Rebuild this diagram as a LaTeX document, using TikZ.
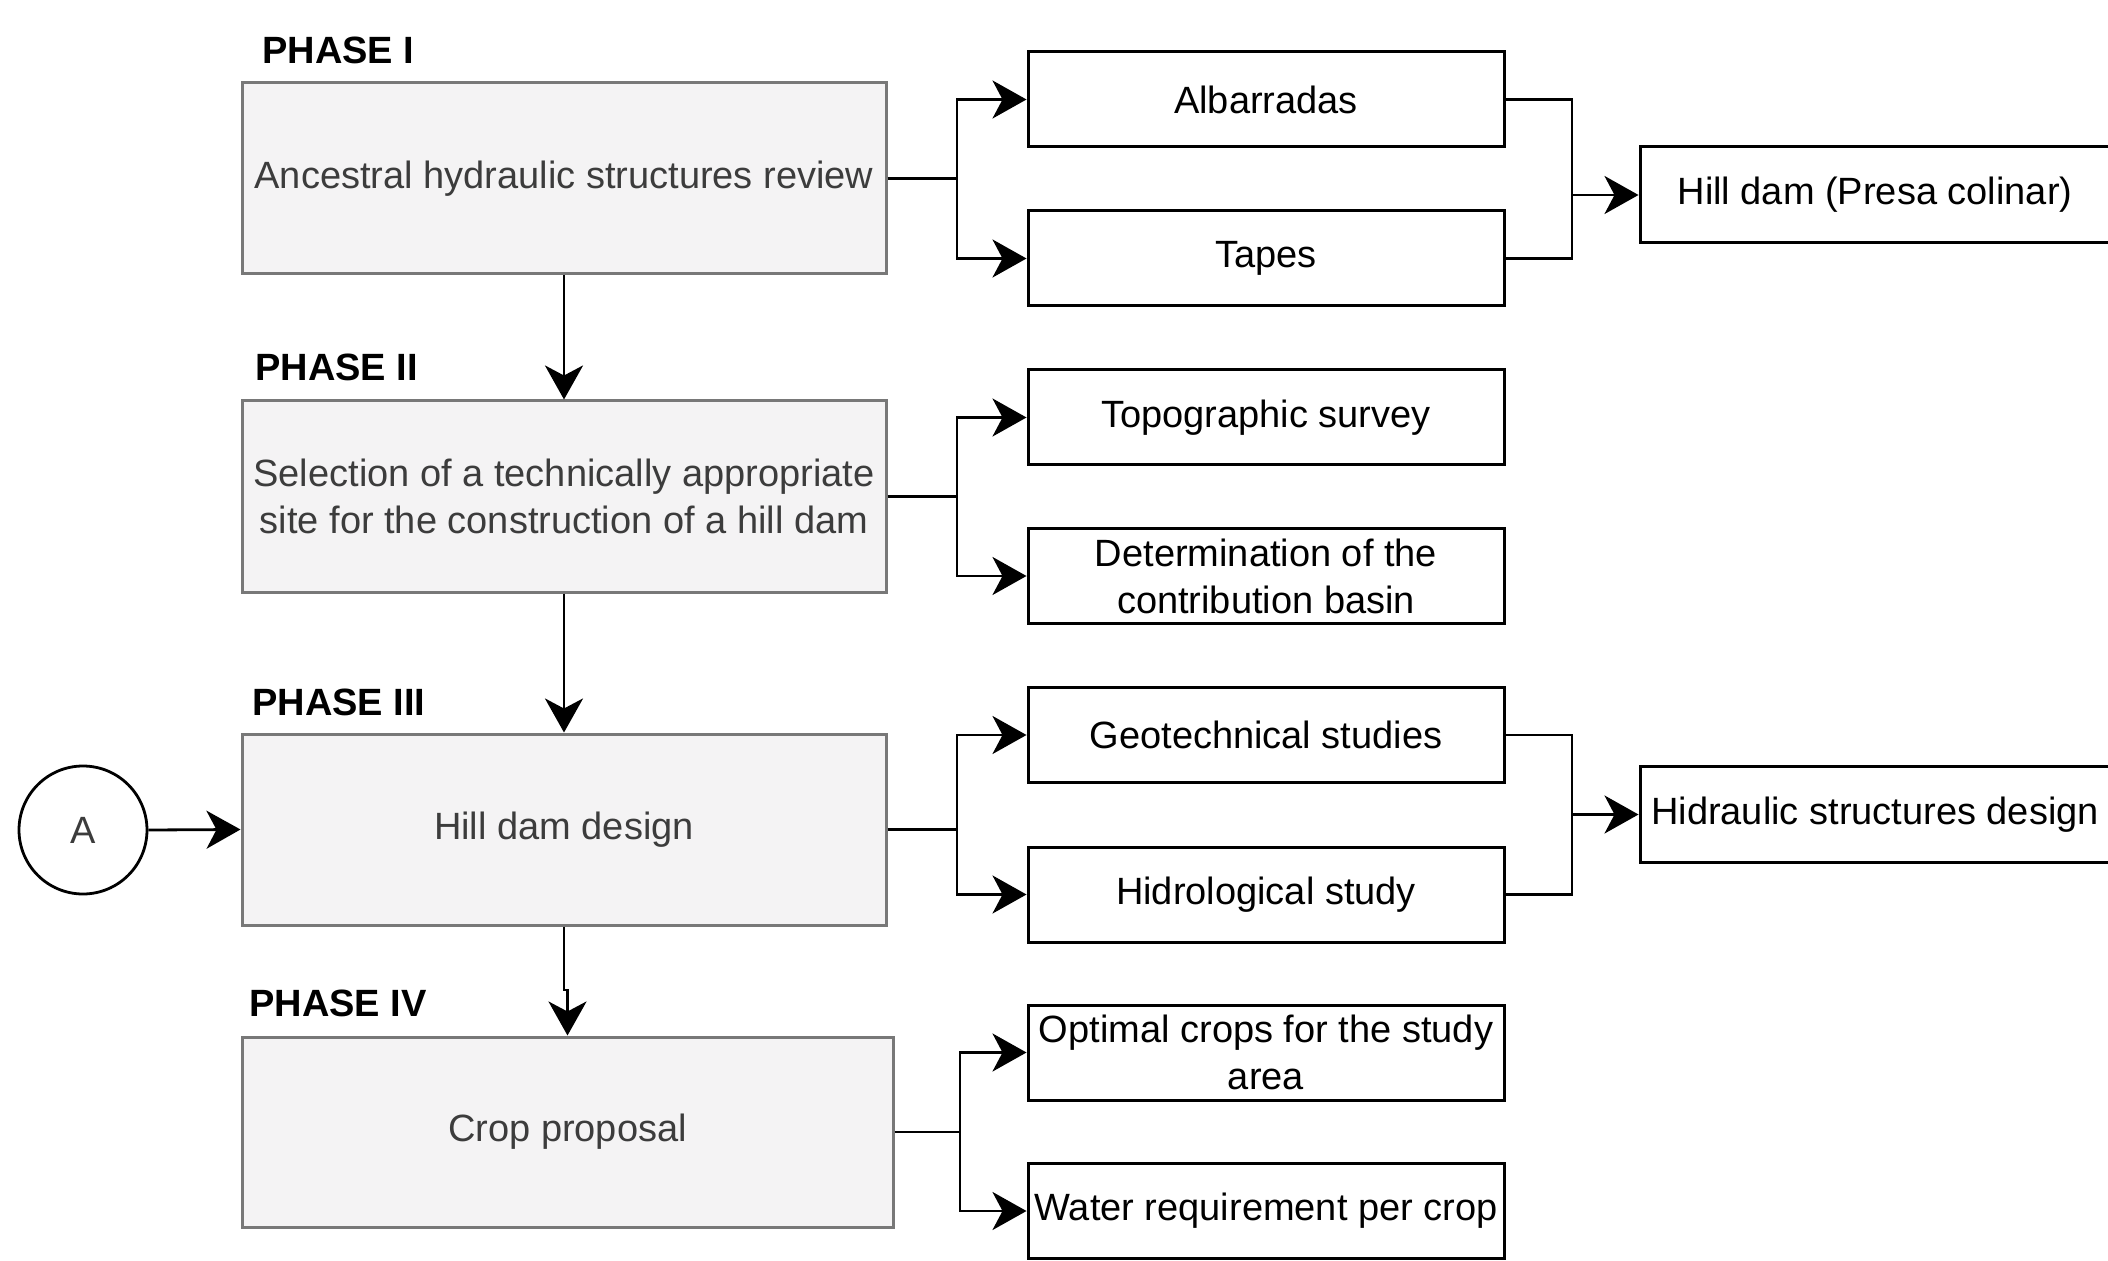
\documentclass[tikz,border=0pt]{standalone}
\usepackage{fontspec}
\setmainfont{Liberation Sans}
\usetikzlibrary{arrows.meta}
\definecolor{boxfill}{RGB}{244,243,244}
\definecolor{boxline}{RGB}{120,120,120}
\definecolor{txtgray}{RGB}{60,60,60}
\tikzset{
  x=0.5pt, y=-0.5pt,
  every node/.style={font=\fontsize{19}{23.5}\selectfont, inner sep=0pt, align=center},
  graybox/.style={draw=boxline, fill=boxfill, line width=1.5pt, text=txtgray, minimum width=322pt, minimum height=95.5pt},
  whitebox/.style={draw=black, fill=white, line width=1.5pt, text=black, minimum width=238pt, minimum height=47.5pt},
  resbox/.style={draw=black, fill=white, line width=1.5pt, text=black, minimum width=235pt, minimum height=48pt},
  phaselabel/.style={anchor=west, font=\fontsize{19}{23.5}\selectfont\bfseries, text=black},
  conn/.style={draw=black, line width=1.4pt},
  arr/.style={conn, -{Stealth[length=17pt, width=19pt, inset=5pt]}},
}
\begin{document}
\begin{tikzpicture}
\useasboundingbox (0,0) rectangle (2108,1261);

% phase labels
\node[phaselabel] (l1) at (262,50) {PHASE I};
\node[phaselabel] (l2) at (255,367) {PHASE II};
\node[phaselabel] (l3) at (252,702) {PHASE III};
\node[phaselabel] (l4) at (249,1003) {PHASE IV};

% phase boxes
\node[graybox] (p1) at (564,178.5) {Ancestral hydraulic structures review};
\node[graybox] (p2) at (564,496.5) {Selection of a technically appropriate\\site for the construction of a hill dam};
\node[graybox] (p3) at (564,829.5) {Hill dam design};
\node[graybox, minimum width=325.5pt, minimum height=95pt] (p4) at (567.5,1132) {Crop proposal};

% circle A
\node[draw=black, fill=white, line width=1.4pt, circle, minimum size=64pt, text=txtgray] (ca) at (83,830) {A};

% sub boxes
\node[whitebox] (alb) at (1266,99.5) {Albarradas};
\node[whitebox] (tap) at (1266,258.5) {Tapes};
\node[whitebox] (top) at (1266,417.5) {Topographic survey};
\node[whitebox] (det) at (1266,576) {Determination of the\\contribution basin};
\node[whitebox] (geo) at (1266,735) {Geotechnical studies};
\node[whitebox] (hid) at (1266,894.5) {Hidrological study};
\node[whitebox] (opt) at (1266,1052.5) {Optimal crops for the study\\area};
\node[whitebox] (wat) at (1266,1211) {Water requirement per crop};

% result boxes
\node[resbox] (hill) at (1875,195) {Hill dam (Presa colinar)};
\node[resbox] (hyd) at (1875,814.5) {Hidraulic structures design};

% junctions
\coordinate (j1) at (957,178.5);
\coordinate (j2) at (957,496.5);
\coordinate (j3) at (957,829.5);
\coordinate (j4) at (960,1132);
\coordinate (k1) at (1572,195);
\coordinate (k3) at (1572,814.5);

% phase -> sub boxes
\draw[conn] (p1.east) -- (j1);
\draw[arr] (j1) |- (alb.west);
\draw[arr] (j1) |- (tap.west);
\draw[conn] (p2.east) -- (j2);
\draw[arr] (j2) |- (top.west);
\draw[arr] (j2) |- (det.west);
\draw[conn] (p3.east) -- (j3);
\draw[arr] (j3) |- (geo.west);
\draw[arr] (j3) |- (hid.west);
\draw[conn] (p4.east) -- (j4);
\draw[arr] (j4) |- (opt.west);
\draw[arr] (j4) |- (wat.west);

% sub boxes -> results
\draw[conn] (alb.east) -| (k1);
\draw[conn] (tap.east) -| (k1);
\draw[arr] (k1) -- (hill.west);
\draw[conn] (geo.east) -| (k3);
\draw[conn] (hid.east) -| (k3);
\draw[arr] (k3) -- (hyd.west);

% vertical flow
\draw[arr] (p1.south) -- (p2.north);
\draw[arr] (p2.south) -- (p3.north);
\coordinate (jog) at (564,990);
\draw[arr] (p3.south) -- (jog) -| (p4.north);
\draw[arr] (ca.east) -- (p3.west);
\end{tikzpicture}
\end{document}
